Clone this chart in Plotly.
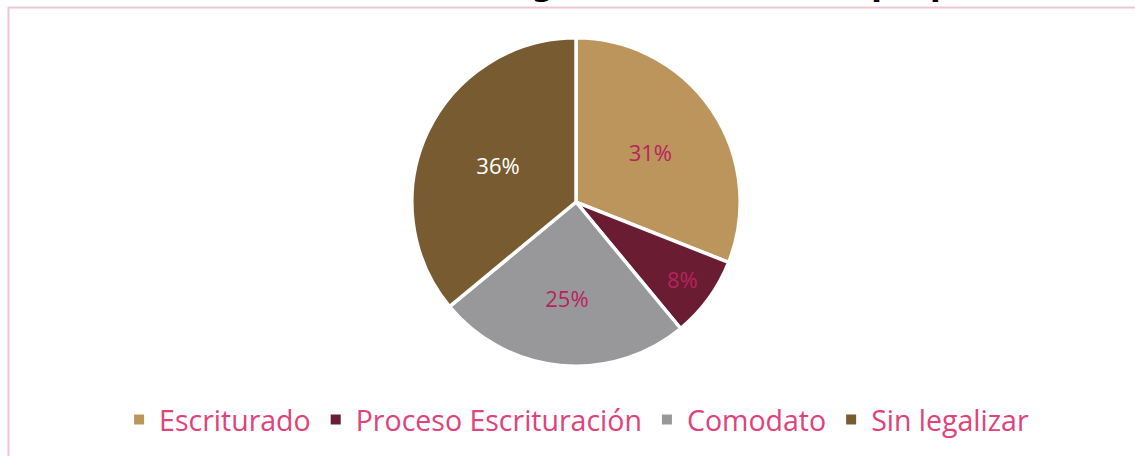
import plotly.graph_objects as go

categories = ["Escriturado", "Proceso Escrituración", "Comodato", "Sin legalizar"]
values = [31, 8, 25, 36]
colors = ["#BC955C", "#691C32", "#98989A", "#785B31"]
label_colors = ["#B8235E", "#B8235E", "#B8235E", "#FFFFFF"]
title_text = "Gráfica 4. Situación legal de los terrenos propios"

fig = go.Figure()
fig.add_trace(go.Pie(
    labels=categories,
    values=values,
    sort=False,
    direction="clockwise",
    rotation=0,
    marker=dict(colors=colors, line=dict(color="#FFFFFF", width=3.5)),
    textinfo="percent",
    texttemplate="%{percent:.0%}",
    textposition="inside",
    insidetextorientation="horizontal",
    textfont=dict(family="Open Sans", size=22, color=label_colors),
    domain=dict(x=[0.30, 0.715], y=[0.197, 0.917]),
    hoverinfo="label+percent",
))

fig.update_layout(
    width=1135, height=456,
    margin=dict(l=0, r=0, t=0, b=0),
    paper_bgcolor="#FFFFFF",
    plot_bgcolor="#FFFFFF",
    showlegend=True,
    legend=dict(
        orientation="h", x=0.508, xanchor="center", y=0.079, yanchor="middle",
        font=dict(family="Open Sans", size=28.5, color="#E0427C"),
        itemsizing="constant", traceorder="normal",
    ),
    shapes=[dict(type="rect", xref="paper", yref="paper",
                 x0=8.5 / 1135, x1=1.05, y0=-0.1, y1=1 - 7.5 / 456,
                 line=dict(color="#F2C4D6", width=2), layer="below")],
    annotations=[dict(text="<b>" + title_text + "</b>", xref="paper", yref="paper",
                      x=0.507, y=1 - 5 / 456, xanchor="center", yanchor="bottom",
                      showarrow=False,
                      font=dict(family="DejaVu Sans", size=31, color="#000000"))],
)

fig.write_html("out.html", config={"displayModeBar": False},
               post_script="document.body.style.margin='0px';")
